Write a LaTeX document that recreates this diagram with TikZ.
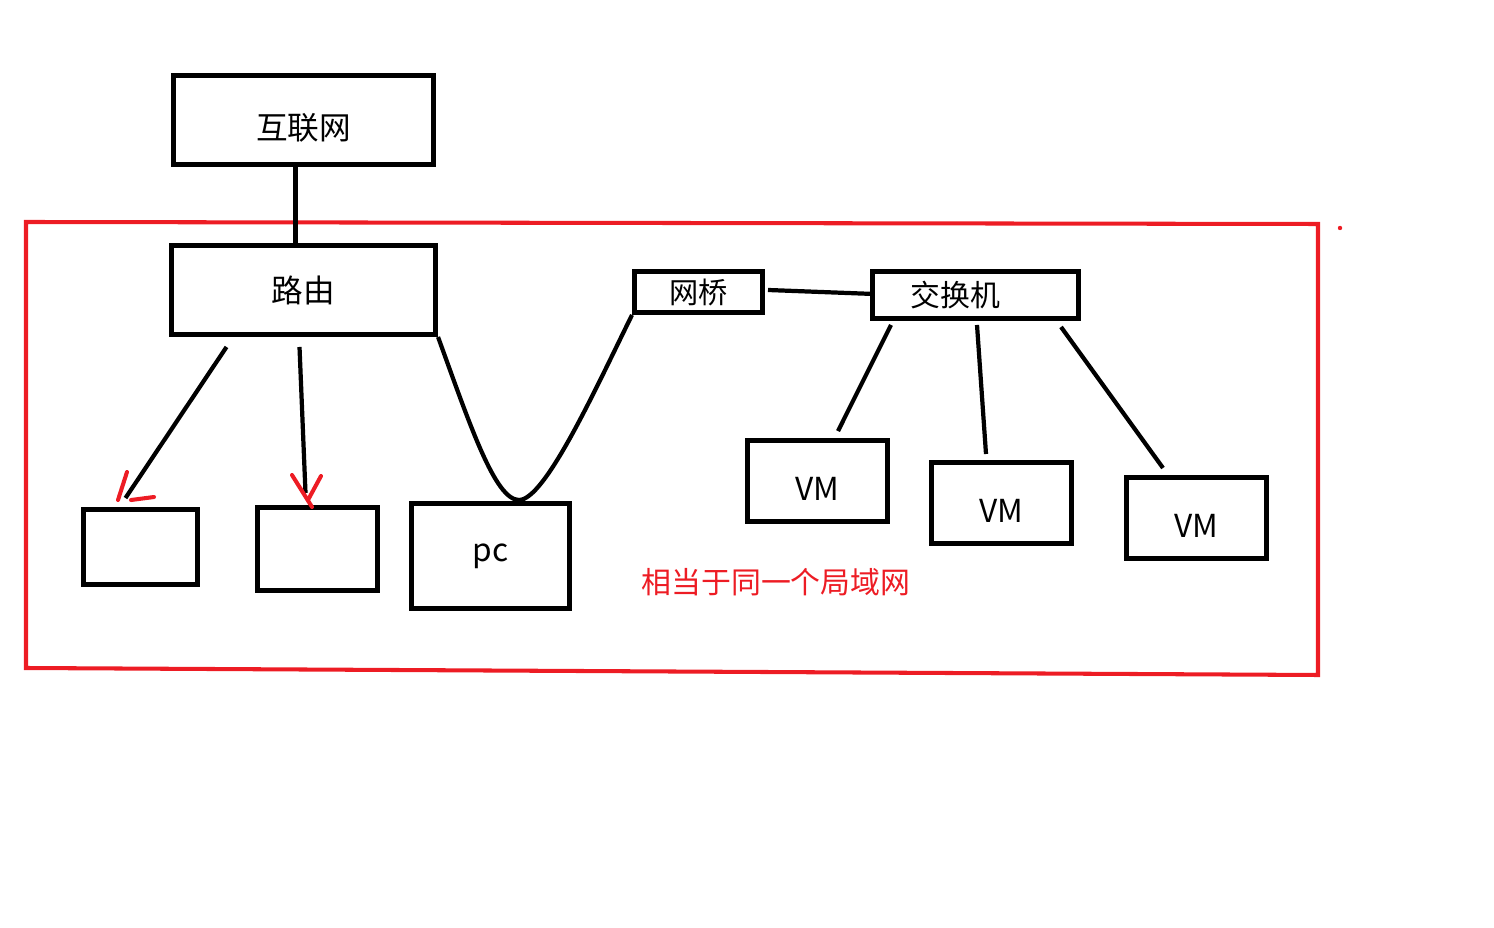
\documentclass[tikz,border=0pt]{standalone}
\usepackage{fontspec}
\setmainfont{Noto Sans CJK SC}
\definecolor{paintred}{RGB}{237,28,36}
\newcommand\dropped[1]{\raisebox{-0.08cm}[\height][\depth]{#1}}

\begin{document}
\begin{tikzpicture}[x=0.01cm, y=-0.01cm, line width=1.2pt,
  box/.style={draw, rectangle, line width=1.4pt, inner sep=0pt, font=\fontsize{9}{10}\selectfont},
  frame/.style={draw=paintred, line width=1.15pt},
  tip/.style={paintred, line width=1.15pt, line cap=round}]

\useasboundingbox (0,0) rectangle (1494,928);

% red frame of the LAN
\draw[frame] (26,222) -- (1318,224) -- (1318,675) -- (26,668) -- cycle;
\fill[paintred] (1340,228) circle (2.2);

\node[box, minimum width=2.60cm, minimum height=0.89cm] (inet) at (303.5,120) {\dropped{互联网}};
\node[box, minimum width=2.64cm, minimum height=0.89cm] (router) at (303.5,290) {路由};
\node[box, minimum width=1.14cm, minimum height=0.75cm] (dev1) at (140.5,547) {};
\node[box, minimum width=1.20cm, minimum height=0.83cm] (dev2) at (317.5,549) {};
\node[box, minimum width=1.58cm, minimum height=1.05cm] (pc) at (490.5,556) {pc};
\node[box, minimum width=1.28cm, minimum height=0.41cm,
  font=\fontsize{8.3}{9}\selectfont] (bridge) at (698.5,292) {网桥};
\node[box, minimum width=2.06cm, minimum height=0.47cm,
  font=\fontsize{8.5}{9}\selectfont] (switch) at (975.5,295) {\hspace*{-0.4cm}交换机};

\def \vmw {1.40cm}
\def \vmh {0.81cm}
\foreach \i/\x/\y in {1/817.5/481, 2/1001.5/503, 3/1196.5/518}
{
  \node[box, minimum width=\vmw, minimum height=\vmh] (vm\i) at (\x,\y) {\dropped{VM}};
}

\node[text=paintred, font=\fontsize{8.5}{9}\selectfont] (lan) at (776,582) {相当于同一个局域网};

% links
\draw ([shift={(-8,0)}]inet.south) -- ([shift={(-8,0)}]router.north);
\draw ([shift={(-77,10)}]router.south) -- ([shift={(-15,-9)}]dev1.north);
\draw ([shift={(-4,10)}]router.south) -- ([shift={(-12,-12)}]dev2.north);
\draw (router.south east) .. controls (470,425) and (495,500) .. (519,500)
  .. controls (545,500) and (595,390) .. (bridge.south west);
\draw ([shift={(3,-2)}]bridge.east) -- ([shift={(4,-1)}]switch.west);
\draw ([shift={(-84.5,4)}]switch.south) -- ([shift={(20.5,-7)}]vm1.north);
\draw ([shift={(1.5,4)}]switch.south) -- ([shift={(-15.5,-6)}]vm2.north);
\draw ([shift={(85.5,6)}]switch.south) -- ([shift={(-33.5,-7)}]vm3.north);

% hand drawn red tips
\draw[tip] ([shift={(-13.5,-35)}]dev1.north) -- ([shift={(-22.5,-7)}]dev1.north);
\draw[tip] ([shift={(-9.5,-7)}]dev1.north) -- ([shift={(13.5,-10)}]dev1.north);
\draw[tip] ([shift={(-25.5,-30)}]dev2.north) -- ([shift={(-5.5,2)}]dev2.north);
\draw[tip] ([shift={(3.5,-29)}]dev2.north) -- ([shift={(-9.5,-5)}]dev2.north);
\end{tikzpicture}
\end{document}
